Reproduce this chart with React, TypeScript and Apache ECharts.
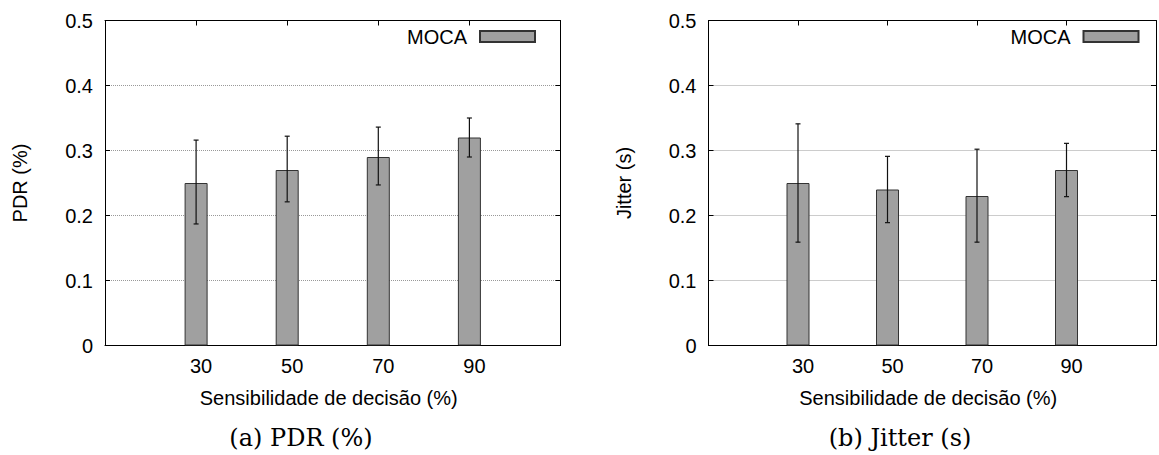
import React, { useEffect, useRef } from "react";
import * as echarts from "echarts";

// ---- data ----
const xLabels = ["30", "50", "70", "90"];
const categories = ["", ...xLabels, ""];
const seriesName = "MOCA";

const pdrMean = [0.25, 0.27, 0.29, 0.32];
const pdrLow = [0.187, 0.221, 0.247, 0.29];
const pdrHigh = [0.316, 0.322, 0.336, 0.35];

const jitterMean = [0.25, 0.24, 0.23, 0.27];
const jitterLow = [0.159, 0.189, 0.159, 0.229];
const jitterHigh = [0.341, 0.291, 0.302, 0.311];

const xTitle = "Sensibilidade de decisão (%)";
const yTitles = ["PDR (%)", "Jitter (s)"];
const captions = ["(a) PDR (%)", "(b) Jitter (s)"];

const SANS = "'Liberation Sans', Arial, Helvetica, sans-serif";
const SERIF = "'DejaVu Serif', 'Liberation Serif', serif";

const gridLefts = [105, 708.5];
const plotWidth = 455.5;

function buildOption() {
  const grids = gridLefts.map((left) => ({
    left,
    top: 20.5,
    width: plotWidth,
    height: 325,
    containLabel: false,
  }));

  const xAxes: any[] = [];
  const yAxes: any[] = [];
  [0, 1].forEach((g) => {
    xAxes.push({
      gridIndex: g,
      type: "category",
      data: categories,
      boundaryGap: false,
      position: "bottom",
      axisLine: { show: true, onZero: false, lineStyle: { color: "#000", width: 1 } },
      axisTick: { show: false },
      axisLabel: {
        color: "#000",
        fontSize: 20,
        fontFamily: SANS,
        margin: 10,
        padding: [0, 0, 0, 10],
        interval: 0,
      },
      splitLine: { show: false },
      name: xTitle,
      nameLocation: "middle",
      nameGap: 42,
      nameTextStyle: { color: "#000", fontSize: 20, fontFamily: SANS, padding: [0, 8, 0, 0] },
    });
    xAxes.push({
      gridIndex: g,
      type: "category",
      data: categories,
      boundaryGap: false,
      position: "top",
      axisLine: { show: true, onZero: false, lineStyle: { color: "#000", width: 1 } },
      axisTick: {
        show: true,
        inside: true,
        length: 5,
        interval: (i: number) => i > 0 && i < categories.length - 1,
        lineStyle: { color: "#000", width: 1 },
      },
      axisLabel: { show: false },
      splitLine: { show: false },
    });
    yAxes.push({
      gridIndex: g,
      type: "value",
      min: 0,
      max: 0.5,
      interval: 0.1,
      position: "left",
      axisLine: { show: true, onZero: false, lineStyle: { color: "#000", width: 1 } },
      axisTick: { show: true, inside: true, length: 5, lineStyle: { color: "#000" } },
      axisLabel: {
        color: "#000",
        fontSize: 20,
        fontFamily: SANS,
        margin: 12,
        formatter: (v: number) => (v === 0 ? "0" : v.toFixed(1)),
      },
      splitLine: {
        show: true,
        showMinLine: false,
        showMaxLine: false,
        lineStyle: { color: "#999", type: [1, 1], width: 1 },
      },
      name: yTitles[g],
      nameLocation: "middle",
      nameGap: 75,
      nameRotate: 90,
      nameTextStyle: { color: "#000", fontSize: 20, fontFamily: SANS },
    });
    yAxes.push({
      gridIndex: g,
      type: "value",
      min: 0,
      max: 0.5,
      interval: 0.1,
      position: "right",
      axisLine: { show: true, onZero: false, lineStyle: { color: "#000", width: 1 } },
      axisTick: { show: true, inside: true, length: 5, lineStyle: { color: "#000" } },
      axisLabel: { show: false },
      splitLine: { show: false },
    });
  });

  const errRender = (params: any, api: any) => {
    const x = api.value(0);
    const lo = api.coord([x, api.value(1)]);
    const hi = api.coord([x, api.value(2)]);
    const h = 2.5;
    const st = { stroke: "#111", lineWidth: 1.2 };
    return {
      type: "group",
      children: [
        { type: "line", shape: { x1: lo[0], y1: lo[1], x2: hi[0], y2: hi[1] }, style: st },
        { type: "line", shape: { x1: lo[0] - h, y1: lo[1], x2: lo[0] + h, y2: lo[1] }, style: st },
        { type: "line", shape: { x1: hi[0] - h, y1: hi[1], x2: hi[0] + h, y2: hi[1] }, style: st },
      ],
    };
  };

  const means = [pdrMean, jitterMean];
  const lows = [pdrLow, jitterLow];
  const highs = [pdrHigh, jitterHigh];

  const series: any[] = [];
  [0, 1].forEach((g) => {
    series.push({
      type: "bar",
      name: seriesName,
      xAxisIndex: g * 2,
      yAxisIndex: g * 2,
      barWidth: 23,
      data: ["-", ...means[g], "-"],
      itemStyle: { color: "#a0a0a0", borderColor: "#333", borderWidth: 1 },
      z: 2,
    });
    series.push({
      type: "custom",
      name: "err" + g,
      xAxisIndex: g * 2,
      yAxisIndex: g * 2,
      renderItem: errRender,
      data: means[g].map((_, i) => [i + 1, lows[g][i], highs[g][i]]),
      encode: { x: 0, y: [1, 2] },
      z: 5,
      silent: true,
    });
  });

  const legends = [1159 - 536, 19.5].map((right) => ({
    data: [seriesName],
    right,
    top: 26.5,
    padding: 0,
    align: "right",
    icon: "rect",
    itemWidth: 55,
    itemHeight: 11,
    selectedMode: false,
    textStyle: { color: "#000", fontSize: 20, fontFamily: SANS, padding: [0, 8, 0, 0] },
  }));

  const captionX = [301, 900];
  const graphic = captions.map((t, i) => ({
    type: "text",
    x: captionX[i],
    y: 438,
    style: {
      text: t,
      fontSize: 24,
      fontFamily: SERIF,
      fill: "#000",
      textAlign: "center",
      textVerticalAlign: "middle",
      align: "center",
      verticalAlign: "middle",
    },
  }));

  return {
    animation: false,
    backgroundColor: "#fff",
    grid: grids,
    xAxis: xAxes,
    yAxis: yAxes,
    legend: legends,
    series,
    graphic,
  };
}

export default function App() {
  const ref = useRef<HTMLDivElement>(null);
  useEffect(() => {
    document.body.style.margin = "0";
    if (!ref.current) return;
    const chart = echarts.init(ref.current, undefined, { renderer: "svg" });
    chart.setOption(buildOption() as any);
    return () => chart.dispose();
  }, []);
  return (
    <div style={{ width: 1159, height: 455, overflow: "hidden" }}>
      <div ref={ref} style={{ width: 1159, height: 455 }} />
    </div>
  );
}
